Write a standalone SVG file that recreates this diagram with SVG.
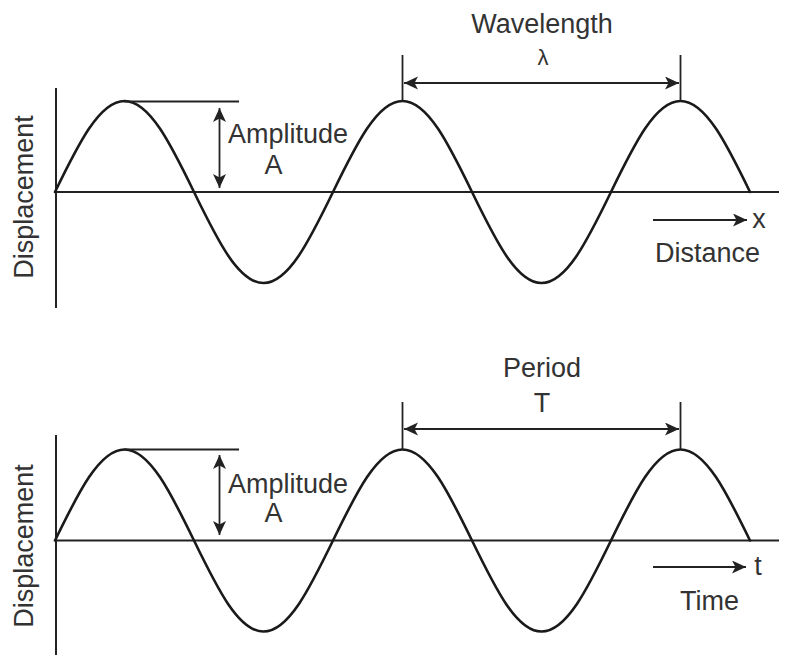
<svg xmlns="http://www.w3.org/2000/svg" width="796" height="667" viewBox="0 0 796 667">
  <style>
    .axis { stroke: #222; stroke-width: 2; fill: none; }
    .wave { stroke: #1a1a1a; stroke-width: 2.6; fill: none; stroke-linecap: round; }
    .dim { stroke: #222; stroke-width: 1.8; fill: none; }
    .arrow2 { stroke: #222; stroke-width: 1.8; fill: none; marker-start: url(#ah); marker-end: url(#ah); }
    .arrow1 { stroke: #222; stroke-width: 1.8; fill: none; marker-end: url(#ah); }
    text { font-family: "Liberation Sans", Arial, sans-serif; font-size: 27px; fill: #333; }
    .mid { text-anchor: middle; }
  </style>
  <defs>
    <marker id="ah" markerUnits="userSpaceOnUse" markerWidth="16" markerHeight="14" refX="14" refY="6.5" orient="auto-start-reverse" viewBox="0 0 16 14">
      <path d="M0,0 L14,6.5 L0,13 L3.5,6.5 Z" fill="#222"/>
    </marker>
    <path id="wave" d="M55,0 c23.23,-47.78 44.48,-91 69.5,-91 c25.02,0 46.27,43.22 69.5,91 c23.23,47.78 44.48,91 69.5,91 c25.02,0 46.27,-43.22 69.5,-91 c23.23,-47.78 44.48,-91 69.5,-91 c25.02,0 46.27,43.22 69.5,91 c23.23,47.78 44.48,91 69.5,91 c25.02,0 46.27,-43.22 69.5,-91 c23.23,-47.78 44.48,-91 69.5,-91 c25.02,0 46.27,43.22 69.5,91"/>
  </defs>

  <!-- Top graph: displacement vs distance -->
  <g id="graph-distance">
    <g id="axes-top">
      <line class="axis" x1="56" y1="88" x2="56" y2="308"/>
      <line class="axis" x1="56" y1="192" x2="779" y2="192"/>
    </g>
    <use href="#wave" class="wave" transform="translate(0,192)"/>
    <text id="ylabel-top" class="mid" transform="translate(33,197) rotate(-90)">Displacement</text>
    <g id="amplitude-top">
      <line class="dim" x1="124" y1="101.5" x2="239" y2="101.5"/>
      <line class="arrow2" x1="219.5" y1="108" x2="219.5" y2="188"/>
      <text x="228" y="143">Amplitude</text>
      <text class="mid" x="273.5" y="174">A</text>
    </g>
    <g id="wavelength">
      <line class="dim" x1="402.5" y1="55" x2="402.5" y2="101"/>
      <line class="dim" x1="680.5" y1="55" x2="680.5" y2="101"/>
      <line class="arrow2" x1="404" y1="83" x2="679" y2="83"/>
      <text class="mid" x="542" y="33">Wavelength</text>
      <text class="mid" x="543" y="65" style="font-size:22px">λ</text>
    </g>
    <g id="distance-label">
      <line class="arrow1" x1="653" y1="220" x2="747" y2="220"/>
      <text class="mid" x="759" y="228">x</text>
      <text x="655" y="262">Distance</text>
    </g>
  </g>

  <!-- Bottom graph: displacement vs time -->
  <g id="graph-time">
    <g id="axes-bottom">
      <line class="axis" x1="56" y1="435" x2="56" y2="655"/>
      <line class="axis" x1="56" y1="540.5" x2="779" y2="540.5"/>
    </g>
    <use href="#wave" class="wave" transform="translate(0,540.5)"/>
    <text id="ylabel-bottom" class="mid" transform="translate(33,546) rotate(-90)">Displacement</text>
    <g id="amplitude-bottom">
      <line class="dim" x1="124" y1="449.5" x2="239" y2="449.5"/>
      <line class="arrow2" x1="219.5" y1="455" x2="219.5" y2="535"/>
      <text x="228" y="493">Amplitude</text>
      <text class="mid" x="273.5" y="522">A</text>
    </g>
    <g id="period">
      <line class="dim" x1="402.5" y1="402" x2="402.5" y2="449.5"/>
      <line class="dim" x1="680.5" y1="402" x2="680.5" y2="449.5"/>
      <line class="arrow2" x1="404" y1="429" x2="679" y2="429"/>
      <text class="mid" x="542" y="377">Period</text>
      <text class="mid" x="542" y="412">T</text>
    </g>
    <g id="time-label">
      <line class="arrow1" x1="653" y1="567" x2="746" y2="567"/>
      <text class="mid" x="758" y="575">t</text>
      <text class="mid" x="709.5" y="610">Time</text>
    </g>
  </g>
</svg>
